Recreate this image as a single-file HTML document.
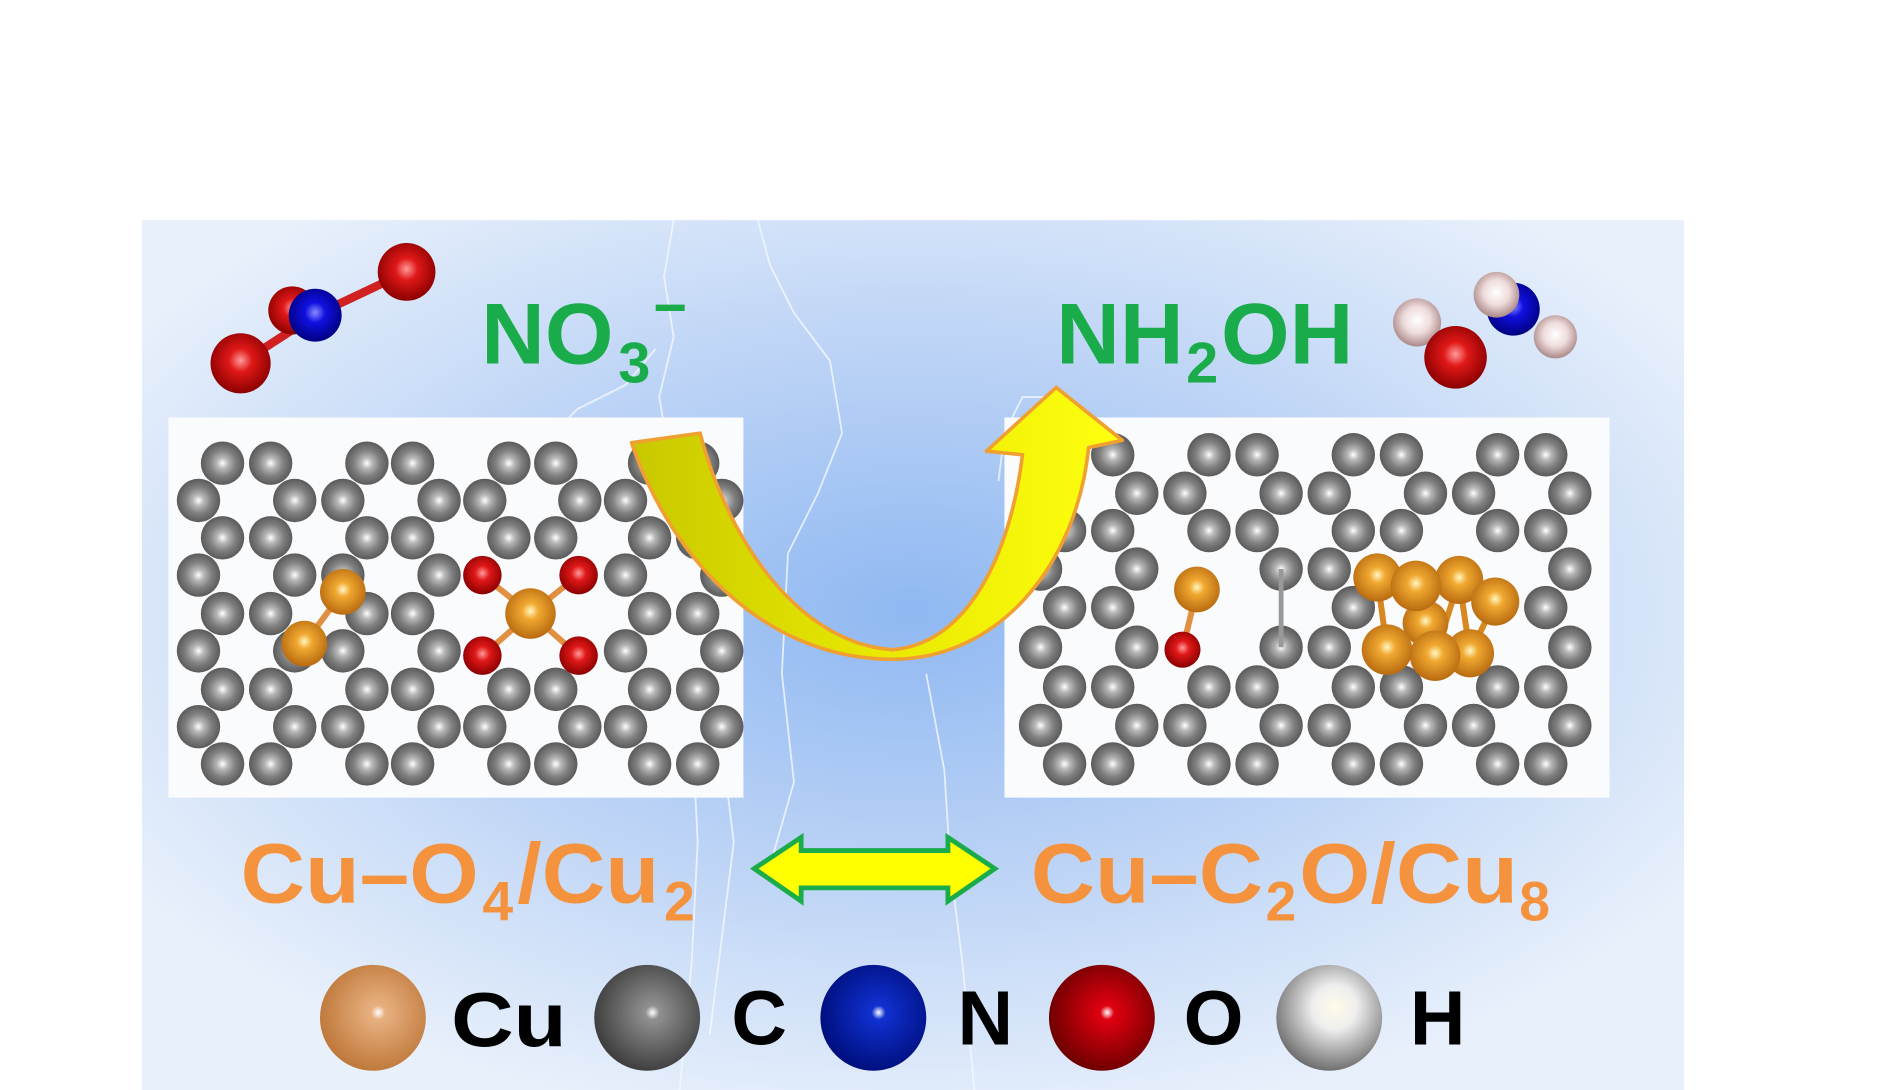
<!DOCTYPE html>
<html><head><meta charset="utf-8"><style>
html,body{margin:0;padding:0;background:#fff;}
svg{display:block;}
text{font-family:"Liberation Sans",Arial,sans-serif;font-weight:bold;}
</style></head><body>
<svg width="1885" height="1090" viewBox="0 0 1567 906" preserveAspectRatio="none" xmlns="http://www.w3.org/2000/svg">
<defs>
<radialGradient id="bg" cx="0.5" cy="0.45" r="0.6">
<stop offset="0" stop-color="#8fb8f2"/><stop offset="0.45" stop-color="#b7d0f5"/><stop offset="1" stop-color="#e8f0fb"/>
</radialGradient>
<radialGradient id="gC" cx="0.5" cy="0.5" r="0.5"><stop offset="0" stop-color="#fff"/><stop offset="0.25" stop-color="#b8b8b8"/><stop offset="0.6" stop-color="#808080"/><stop offset="1" stop-color="#5a5a5a"/></radialGradient>
<radialGradient id="gCu" cx="0.5" cy="0.45" r="0.55"><stop offset="0" stop-color="#fff6c0"/><stop offset="0.3" stop-color="#f0a830"/><stop offset="1" stop-color="#b86a10"/></radialGradient>
<radialGradient id="gO" cx="0.5" cy="0.45" r="0.55"><stop offset="0" stop-color="#ff9a9a"/><stop offset="0.35" stop-color="#e01818"/><stop offset="1" stop-color="#8a0000"/></radialGradient>
<radialGradient id="gN" cx="0.5" cy="0.45" r="0.55"><stop offset="0" stop-color="#8a8aff"/><stop offset="0.35" stop-color="#1010e0"/><stop offset="1" stop-color="#000080"/></radialGradient>
<radialGradient id="gH" cx="0.5" cy="0.45" r="0.55"><stop offset="0" stop-color="#fff"/><stop offset="0.5" stop-color="#efdcdc"/><stop offset="1" stop-color="#a88"/></radialGradient>
<radialGradient id="lCu" cx="0.55" cy="0.45" r="0.55"><stop offset="0" stop-color="#fff"/><stop offset="0.12" stop-color="#e8b080"/><stop offset="1" stop-color="#c07a3c"/></radialGradient>
<radialGradient id="lC" cx="0.55" cy="0.45" r="0.55"><stop offset="0" stop-color="#fff"/><stop offset="0.12" stop-color="#909090"/><stop offset="1" stop-color="#404040"/></radialGradient>
<radialGradient id="lN" cx="0.55" cy="0.45" r="0.55"><stop offset="0" stop-color="#fff"/><stop offset="0.12" stop-color="#1030d0"/><stop offset="1" stop-color="#001080"/></radialGradient>
<radialGradient id="lO" cx="0.55" cy="0.45" r="0.55"><stop offset="0" stop-color="#fff"/><stop offset="0.12" stop-color="#e00010"/><stop offset="1" stop-color="#700000"/></radialGradient>
<radialGradient id="lH" cx="0.55" cy="0.4" r="0.6"><stop offset="0" stop-color="#fffbe8"/><stop offset="0.35" stop-color="#eeeeee"/><stop offset="1" stop-color="#707070"/></radialGradient>
<linearGradient id="ua" x1="0" y1="0" x2="1" y2="0"><stop offset="0" stop-color="#c8c800"/><stop offset="0.5" stop-color="#e8e800"/><stop offset="1" stop-color="#ffff10"/></linearGradient>
<symbol id="c" viewBox="-20 -20 40 40" overflow="visible"><circle r="19" fill="url(#gC)"/></symbol>
</defs>
<rect x="118" y="183" width="1282" height="723" fill="url(#bg)"/>
<g fill="none" stroke="#f4f8ff" stroke-width="1.5" opacity="0.8">
<path d="M560,183 L552,230 L560,280 L548,330 L560,400 L565,500 L575,600 L580,700 L575,800 L565,906"/>
<path d="M630,183 L640,220 L660,260 L690,300 L700,360 L680,410 L655,460 L650,560 L660,650 L640,720"/>
<path d="M545,290 L520,320 L480,340 L460,360"/>
<path d="M870,330 L850,330 L835,360 L830,400"/>
<path d="M770,560 L785,640 L790,720 L800,800 L810,906"/>
<path d="M600,620 L610,700 L600,780 L590,860"/>
</g>
<rect x="140" y="347" width="478" height="316" fill="#fafbfd"/>
<rect x="835" y="347" width="503" height="316" fill="#fafbfd"/>
<g>
<use href="#c" x="166" y="366" width="38" height="38"/><use href="#c" x="206" y="366" width="38" height="38"/><use href="#c" x="286" y="366" width="38" height="38"/><use href="#c" x="324" y="366" width="38" height="38"/><use href="#c" x="404" y="366" width="38" height="38"/><use href="#c" x="443" y="366" width="38" height="38"/><use href="#c" x="521" y="366" width="38" height="38"/><use href="#c" x="561" y="366" width="38" height="38"/>
<use href="#c" x="146" y="397" width="38" height="38"/><use href="#c" x="226" y="397" width="38" height="38"/><use href="#c" x="266" y="397" width="38" height="38"/><use href="#c" x="346" y="397" width="38" height="38"/><use href="#c" x="384" y="397" width="38" height="38"/><use href="#c" x="463" y="397" width="38" height="38"/><use href="#c" x="501" y="397" width="38" height="38"/><use href="#c" x="581" y="397" width="38" height="38"/>
<use href="#c" x="166" y="428" width="38" height="38"/><use href="#c" x="206" y="428" width="38" height="38"/><use href="#c" x="286" y="428" width="38" height="38"/><use href="#c" x="324" y="428" width="38" height="38"/><use href="#c" x="404" y="428" width="38" height="38"/><use href="#c" x="443" y="428" width="38" height="38"/><use href="#c" x="521" y="428" width="38" height="38"/><use href="#c" x="561" y="428" width="38" height="38"/>
<use href="#c" x="146" y="459" width="38" height="38"/><use href="#c" x="226" y="459" width="38" height="38"/><use href="#c" x="266" y="459" width="38" height="38"/><use href="#c" x="346" y="459" width="38" height="38"/><use href="#c" x="501" y="459" width="38" height="38"/><use href="#c" x="581" y="459" width="38" height="38"/>
<use href="#c" x="166" y="491" width="38" height="38"/><use href="#c" x="206" y="491" width="38" height="38"/><use href="#c" x="286" y="491" width="38" height="38"/><use href="#c" x="324" y="491" width="38" height="38"/><use href="#c" x="521" y="491" width="38" height="38"/><use href="#c" x="561" y="491" width="38" height="38"/>
<use href="#c" x="146" y="522" width="38" height="38"/><use href="#c" x="226" y="522" width="38" height="38"/><use href="#c" x="266" y="522" width="38" height="38"/><use href="#c" x="346" y="522" width="38" height="38"/><use href="#c" x="501" y="522" width="38" height="38"/><use href="#c" x="581" y="522" width="38" height="38"/>
<use href="#c" x="166" y="554" width="38" height="38"/><use href="#c" x="206" y="554" width="38" height="38"/><use href="#c" x="286" y="554" width="38" height="38"/><use href="#c" x="324" y="554" width="38" height="38"/><use href="#c" x="404" y="554" width="38" height="38"/><use href="#c" x="443" y="554" width="38" height="38"/><use href="#c" x="521" y="554" width="38" height="38"/><use href="#c" x="561" y="554" width="38" height="38"/>
<use href="#c" x="146" y="585" width="38" height="38"/><use href="#c" x="226" y="585" width="38" height="38"/><use href="#c" x="266" y="585" width="38" height="38"/><use href="#c" x="346" y="585" width="38" height="38"/><use href="#c" x="384" y="585" width="38" height="38"/><use href="#c" x="463" y="585" width="38" height="38"/><use href="#c" x="501" y="585" width="38" height="38"/><use href="#c" x="581" y="585" width="38" height="38"/>
<use href="#c" x="166" y="616" width="38" height="38"/><use href="#c" x="206" y="616" width="38" height="38"/><use href="#c" x="286" y="616" width="38" height="38"/><use href="#c" x="324" y="616" width="38" height="38"/><use href="#c" x="404" y="616" width="38" height="38"/><use href="#c" x="443" y="616" width="38" height="38"/><use href="#c" x="521" y="616" width="38" height="38"/><use href="#c" x="561" y="616" width="38" height="38"/>
</g>
<g stroke="#e09040" stroke-width="5">
<line x1="285" y1="492" x2="253" y2="535"/>
<line x1="441" y1="510" x2="401" y2="478"/><line x1="441" y1="510" x2="481" y2="478"/><line x1="441" y1="510" x2="401" y2="545"/><line x1="441" y1="510" x2="481" y2="545"/>
</g>
<circle cx="285" cy="492" r="19" fill="url(#gCu)"/><circle cx="253" cy="535" r="19" fill="url(#gCu)"/>
<circle cx="441" cy="510" r="21" fill="url(#gCu)"/>
<circle cx="401" cy="478" r="16" fill="url(#gO)"/><circle cx="481" cy="478" r="16" fill="url(#gO)"/><circle cx="401" cy="545" r="16" fill="url(#gO)"/><circle cx="481" cy="545" r="16" fill="url(#gO)"/>
<g>
<use href="#c" x="906" y="359" width="38" height="38"/><use href="#c" x="986" y="359" width="38" height="38"/><use href="#c" x="1026" y="359" width="38" height="38"/><use href="#c" x="1106" y="359" width="38" height="38"/><use href="#c" x="1146" y="359" width="38" height="38"/><use href="#c" x="1226" y="359" width="38" height="38"/><use href="#c" x="1266" y="359" width="38" height="38"/>
<use href="#c" x="926" y="391" width="38" height="38"/><use href="#c" x="966" y="391" width="38" height="38"/><use href="#c" x="1046" y="391" width="38" height="38"/><use href="#c" x="1086" y="391" width="38" height="38"/><use href="#c" x="1166" y="391" width="38" height="38"/><use href="#c" x="1206" y="391" width="38" height="38"/><use href="#c" x="1286" y="391" width="38" height="38"/>
<use href="#c" x="866" y="422" width="38" height="38"/><use href="#c" x="906" y="422" width="38" height="38"/><use href="#c" x="986" y="422" width="38" height="38"/><use href="#c" x="1026" y="422" width="38" height="38"/><use href="#c" x="1106" y="422" width="38" height="38"/><use href="#c" x="1146" y="422" width="38" height="38"/><use href="#c" x="1226" y="422" width="38" height="38"/><use href="#c" x="1266" y="422" width="38" height="38"/>
<use href="#c" x="846" y="454" width="38" height="38"/><use href="#c" x="926" y="454" width="38" height="38"/><use href="#c" x="1046" y="454" width="38" height="38"/><use href="#c" x="1086" y="454" width="38" height="38"/><use href="#c" x="1286" y="454" width="38" height="38"/>
<use href="#c" x="866" y="486" width="38" height="38"/><use href="#c" x="906" y="486" width="38" height="38"/><use href="#c" x="1106" y="486" width="38" height="38"/><use href="#c" x="1266" y="486" width="38" height="38"/>
<use href="#c" x="846" y="519" width="38" height="38"/><use href="#c" x="926" y="519" width="38" height="38"/><use href="#c" x="1046" y="519" width="38" height="38"/><use href="#c" x="1086" y="519" width="38" height="38"/><use href="#c" x="1286" y="519" width="38" height="38"/>
<use href="#c" x="866" y="552" width="38" height="38"/><use href="#c" x="906" y="552" width="38" height="38"/><use href="#c" x="986" y="552" width="38" height="38"/><use href="#c" x="1026" y="552" width="38" height="38"/><use href="#c" x="1106" y="552" width="38" height="38"/><use href="#c" x="1146" y="552" width="38" height="38"/><use href="#c" x="1226" y="552" width="38" height="38"/><use href="#c" x="1266" y="552" width="38" height="38"/>
<use href="#c" x="846" y="584" width="38" height="38"/><use href="#c" x="926" y="584" width="38" height="38"/><use href="#c" x="966" y="584" width="38" height="38"/><use href="#c" x="1046" y="584" width="38" height="38"/><use href="#c" x="1086" y="584" width="38" height="38"/><use href="#c" x="1166" y="584" width="38" height="38"/><use href="#c" x="1206" y="584" width="38" height="38"/><use href="#c" x="1286" y="584" width="38" height="38"/>
<use href="#c" x="866" y="616" width="38" height="38"/><use href="#c" x="906" y="616" width="38" height="38"/><use href="#c" x="986" y="616" width="38" height="38"/><use href="#c" x="1026" y="616" width="38" height="38"/><use href="#c" x="1106" y="616" width="38" height="38"/><use href="#c" x="1146" y="616" width="38" height="38"/><use href="#c" x="1226" y="616" width="38" height="38"/><use href="#c" x="1266" y="616" width="38" height="38"/>
</g>
<line x1="1065" y1="473" x2="1065" y2="538" stroke="#999" stroke-width="4"/>
<line x1="995" y1="490" x2="983" y2="540" stroke="#e09040" stroke-width="5"/>
<circle cx="995" cy="490" r="19" fill="url(#gCu)"/>
<circle cx="983" cy="540" r="15" fill="url(#gO)"/>
<g stroke="#d88820" stroke-width="5">
<line x1="1145" y1="480" x2="1153" y2="540"/><line x1="1177" y1="487" x2="1193" y2="545"/><line x1="1213" y1="482" x2="1222" y2="543"/><line x1="1243" y1="500" x2="1222" y2="543"/><line x1="1213" y1="482" x2="1193" y2="545"/><line x1="1177" y1="487" x2="1243" y2="500"/><line x1="1185" y1="520" x2="1153" y2="540"/>
</g>
<circle cx="1185" cy="518" r="19" fill="url(#gCu)"/>
<circle cx="1145" cy="480" r="20" fill="url(#gCu)"/><circle cx="1213" cy="482" r="20" fill="url(#gCu)"/><circle cx="1177" cy="487" r="21" fill="url(#gCu)"/><circle cx="1243" cy="500" r="20" fill="url(#gCu)"/>
<circle cx="1222" cy="543" r="20" fill="url(#gCu)"/><circle cx="1153" cy="540" r="21" fill="url(#gCu)"/><circle cx="1193" cy="545" r="21" fill="url(#gCu)"/>
<path d="M525,368 L582,360 C605,450 665,535 742,540 C805,535 840,460 850,378 L820,375 L878,322 L933,366 L905,372 C895,470 830,548 742,548 C640,548 560,470 525,368 Z" fill="url(#ua)" stroke="#f0a030" stroke-width="3" stroke-linejoin="round"/>
<line x1="262" y1="262" x2="338" y2="226" stroke="#d02020" stroke-width="7"/>
<line x1="262" y1="262" x2="200" y2="302" stroke="#d02020" stroke-width="7"/>
<circle cx="243" cy="258" r="20" fill="url(#gO)"/>
<circle cx="338" cy="226" r="24" fill="url(#gO)"/>
<circle cx="262" cy="262" r="22" fill="url(#gN)"/>
<circle cx="200" cy="302" r="25" fill="url(#gO)"/>
<circle cx="1178" cy="268" r="20" fill="url(#gH)"/>
<circle cx="1258" cy="257" r="22" fill="url(#gN)"/>
<circle cx="1244" cy="245" r="19" fill="url(#gH)"/>
<circle cx="1293" cy="280" r="18" fill="url(#gH)"/>
<circle cx="1210" cy="297" r="26" fill="url(#gO)"/>
<g fill="#1aac4a">
<text x="400" y="302" font-size="72" textLength="110" lengthAdjust="spacingAndGlyphs">NO</text>
<text x="514" y="318" font-size="48">3</text>
<text x="543" y="272" font-size="48">−</text>
<text x="878" y="302" font-size="72" textLength="106" lengthAdjust="spacingAndGlyphs">NH</text>
<text x="986" y="318" font-size="48">2</text>
<text x="1015" y="302" font-size="72" textLength="110" lengthAdjust="spacingAndGlyphs">OH</text>
</g>
<g fill="#f5923e">
<text x="200" y="750" font-size="70" textLength="198" lengthAdjust="spacingAndGlyphs">Cu–O</text>
<text x="401" y="765" font-size="46">4</text>
<text x="430" y="750" font-size="70" textLength="118" lengthAdjust="spacingAndGlyphs">/Cu</text>
<text x="552" y="765" font-size="46">2</text>
<text x="857" y="750" font-size="70" textLength="193" lengthAdjust="spacingAndGlyphs">Cu–C</text>
<text x="1052" y="765" font-size="46">2</text>
<text x="1080" y="750" font-size="70" textLength="182" lengthAdjust="spacingAndGlyphs">O/Cu</text>
<text x="1263" y="765" font-size="46">8</text>
</g>
<path d="M627,722 L666,696 L666,707 L788,707 L788,696 L827,722 L788,749 L788,738 L666,738 L666,749 Z" fill="#ffff00" stroke="#1aac4a" stroke-width="4"/>
<circle cx="310" cy="846" r="44" fill="url(#lCu)"/>
<circle cx="538" cy="846" r="44" fill="url(#lC)"/>
<circle cx="726" cy="846" r="44" fill="url(#lN)"/>
<circle cx="916" cy="846" r="44" fill="url(#lO)"/>
<circle cx="1105" cy="846" r="44" fill="url(#lH)"/>
<g fill="#000" font-size="64">
<text x="375" y="870" textLength="96" lengthAdjust="spacingAndGlyphs">Cu</text>
<text x="608" y="868">C</text>
<text x="796" y="868">N</text>
<text x="984" y="868">O</text>
<text x="1172" y="868">H</text>
</g>
</svg>
</body></html>
